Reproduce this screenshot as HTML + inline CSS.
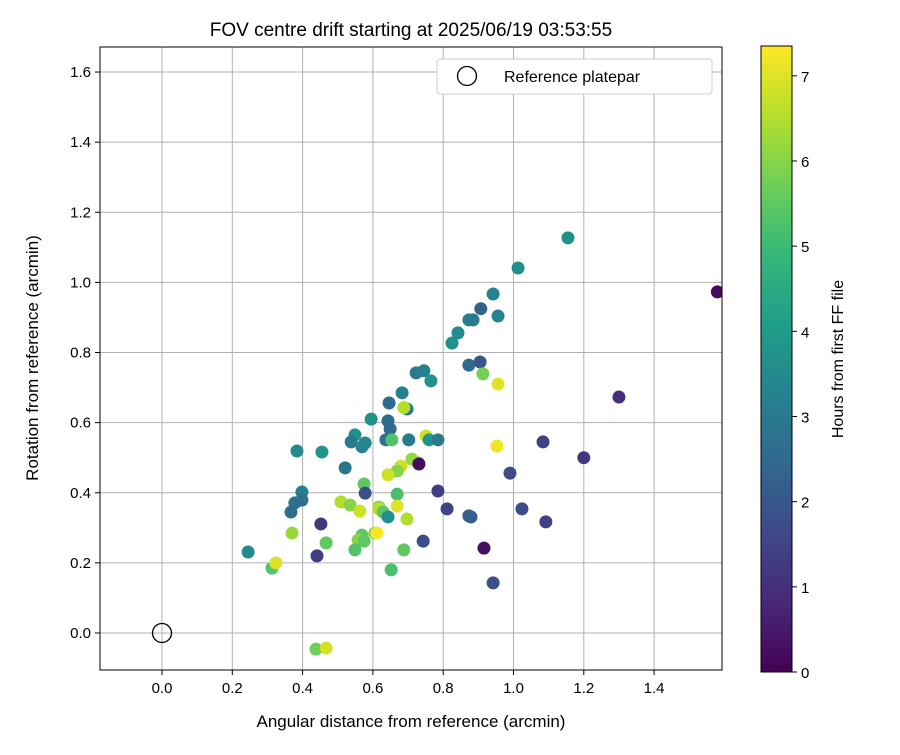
<!DOCTYPE html>
<html><head><meta charset="utf-8"><style>
body{margin:0;background:#fff;font-family:"Liberation Sans","DejaVu Sans",sans-serif;}
</style></head><body>
<svg id="chart" width="900" height="750" xmlns="http://www.w3.org/2000/svg">
<defs>
<linearGradient id="vir" x1="0" y1="1" x2="0" y2="0">
<stop offset="0" stop-color="#440154"/><stop offset="0.111" stop-color="#482878"/>
<stop offset="0.222" stop-color="#3e4989"/><stop offset="0.333" stop-color="#31688e"/>
<stop offset="0.444" stop-color="#26828e"/><stop offset="0.556" stop-color="#1f9e89"/>
<stop offset="0.667" stop-color="#35b779"/><stop offset="0.778" stop-color="#6ece58"/>
<stop offset="0.889" stop-color="#b5de2b"/><stop offset="1" stop-color="#fde725"/>
</linearGradient>
<clipPath id="clip"><rect x="100" y="47" width="622" height="623"/></clipPath>
</defs>
<text x="411" y="36" font-size="19" text-anchor="middle">FOV centre drift starting at 2025/06/19 03:53:55</text>
<g id="grid"></g>
<g id="pts" clip-path="url(#clip)"></g>
<rect x="100" y="47" width="622" height="623" fill="none" stroke="#000" stroke-width="1"/>
<g id="ticks"></g>
<text x="411" y="727" font-size="17" text-anchor="middle">Angular distance from reference (arcmin)</text>
<text x="38" y="358" font-size="17" text-anchor="middle" transform="rotate(-90 38 358)">Rotation from reference (arcmin)</text>
<g>
<rect x="437" y="59" width="275" height="35" fill="#fff" stroke="#ccc" rx="3"/>
<circle cx="467" cy="76" r="9.5" fill="none" stroke="#000" stroke-width="1.3"/>
<text x="504" y="82" font-size="16">Reference platepar</text>
</g>
<rect x="761" y="46" width="31" height="626" fill="url(#vir)" stroke="#000" stroke-width="1"/>
<g id="cbticks"></g>
<text x="843" y="359" font-size="16" text-anchor="middle" transform="rotate(-90 843 359)">Hours from first FF file</text>
</svg>
<script>
const xTicks=[0.0,0.2,0.4,0.6,0.8,1.0,1.2,1.4];
const yTicks=[0.0,0.2,0.4,0.6,0.8,1.0,1.2,1.4,1.6];
const cbTicks=[0,1,2,3,4,5,6,7];
const xs=[1.58,1.155,1.013,0.942,0.873,0.885,0.907,0.956,0.842,0.825,0.873,0.905,0.913,0.956,0.723,0.745,0.765,0.683,1.3,0.646,0.697,0.688,0.595,0.643,0.649,0.549,0.538,0.569,0.578,0.637,0.654,0.751,0.760,0.702,0.785,0.953,1.084,1.2,0.521,0.711,0.729,0.731,0.680,0.669,0.643,0.99,0.384,0.455,0.398,0.398,0.378,0.367,0.575,0.578,0.785,0.669,0.509,0.535,0.617,0.617,0.811,1.024,0.563,0.669,0.629,0.643,0.697,0.879,0.873,1.092,0.452,0.467,0.743,0.606,0.611,0.569,0.558,0.575,0.549,0.688,0.370,0.245,0.441,0.916,0.313,0.324,0.652,0.942,0.438,0.467];
const ys=[0.973,1.127,1.041,0.967,0.893,0.893,0.925,0.904,0.856,0.827,0.764,0.773,0.739,0.710,0.742,0.748,0.719,0.685,0.673,0.656,0.639,0.643,0.610,0.605,0.582,0.565,0.545,0.531,0.542,0.551,0.551,0.562,0.551,0.551,0.551,0.533,0.545,0.500,0.471,0.496,0.485,0.482,0.476,0.462,0.451,0.456,0.519,0.516,0.402,0.379,0.371,0.345,0.425,0.399,0.405,0.396,0.374,0.365,0.359,0.354,0.354,0.354,0.348,0.362,0.345,0.331,0.325,0.331,0.334,0.317,0.311,0.257,0.262,0.285,0.285,0.279,0.265,0.262,0.237,0.237,0.285,0.231,0.220,0.242,0.185,0.200,0.180,0.143,-0.046,-0.043];
const hours=[0.2,3.7,3.6,3.3,3.2,3.0,2.3,3.3,3.5,3.7,2.5,2.0,5.8,7.0,3.0,3.2,3.7,3.2,1.0,2.5,3.0,6.5,3.7,2.6,2.5,3.7,3.0,3.3,3.4,2.7,5.3,6.8,3.8,3.0,3.0,7.2,1.5,1.2,2.8,6.2,5.8,0.2,6.8,6.0,6.8,1.7,3.5,3.8,3.2,2.7,2.7,2.6,5.5,1.8,1.3,5.2,6.5,6.0,6.0,6.6,1.5,1.7,6.8,7.0,5.5,3.7,6.5,2.0,2.2,1.4,1.2,5.5,1.8,5.8,7.3,5.5,6.0,5.5,5.3,5.5,6.2,3.5,1.3,0.3,5.3,7.0,5.2,1.8,5.7,6.9];
const VMAX=7.35;
const X=v=>162+v*351.5, Y=v=>633-v*350.6, CB=v=>672-v*(626/VMAX);
const stops=["#440154","#482878","#3e4989","#31688e","#26828e","#1f9e89","#35b779","#6ece58","#b5de2b","#fde725"].map(h=>[1,3,5].map(i=>parseInt(h.substr(i,2),16)));
function vir(t){t=Math.max(0,Math.min(1,t))*9;const i=Math.min(8,Math.floor(t)),f=t-i;const a=stops[i],b=stops[i+1];return `rgb(${a.map((c,k)=>Math.round(c+(b[k]-c)*f)).join(',')})`;}
const NS="http://www.w3.org/2000/svg";
function mk(tag,attrs,parent,txt){const e=document.createElementNS(NS,tag);for(const k in attrs)e.setAttribute(k,attrs[k]);if(txt!==undefined)e.textContent=txt;document.getElementById(parent).appendChild(e);return e;}
xTicks.forEach(t=>{
 const g=mk('line',{x1:X(t),x2:X(t),y1:47,y2:670,stroke:'#b0b0b0','stroke-width':1},'grid');
 
 
 mk('line',{x1:X(t),x2:X(t),y1:670,y2:675,stroke:'#000'},'ticks');
 const l=mk('text',{x:X(t),y:693,'font-size':15,'text-anchor':'middle'},'ticks',t.toFixed(1));
 
 
});
yTicks.forEach(t=>{
 const g=mk('line',{x1:100,x2:722,y1:Y(t),y2:Y(t),stroke:'#b0b0b0','stroke-width':1},'grid');
 
 
 mk('line',{x1:95,x2:100,y1:Y(t),y2:Y(t),stroke:'#000'},'ticks');
 const l=mk('text',{x:91,y:Y(t)+5,'font-size':15,'text-anchor':'end'},'ticks',t.toFixed(1));
 
 
});
cbTicks.forEach(t=>{
 mk('line',{x1:792,x2:797,y1:CB(t),y2:CB(t),stroke:'#000'},'cbticks');
 const l=mk('text',{x:801,y:CB(t)+6,'font-size':15},'cbticks',String(t));
 
 
});
xs.forEach((v,i)=>{
 const c=mk('circle',{cx:X(v),cy:Y(ys[i]),r:6.5,fill:vir(hours[i]/VMAX)},'pts');
 
 
});
const ref=mk('circle',{cx:X(0),cy:Y(0),r:9.5,fill:'none',stroke:'#000','stroke-width':1.3},'pts');


</script>
</body></html>
